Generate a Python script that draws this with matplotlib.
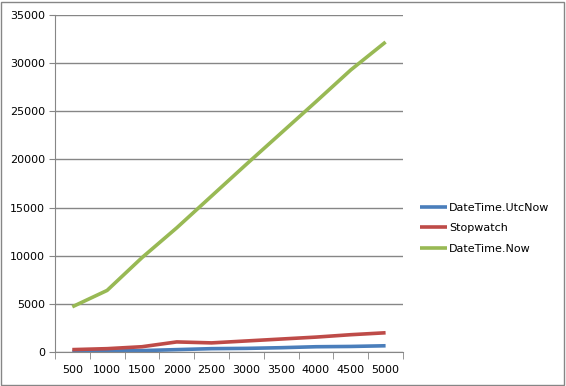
import numpy as np
import matplotlib.pyplot as plt
from matplotlib.patches import Rectangle

# Data
categories = ['500', '1000', '1500', '2000', '2500', '3000', '3500', '4000', '4500', '5000']
utc_now = [50, 100, 150, 250, 350, 380, 450, 550, 580, 650]
stopwatch = [250, 350, 550, 1050, 950, 1150, 1350, 1550, 1800, 2000]
date_now = [4700, 6400, 9800, 12900, 16200, 19500, 22750, 26000, 29300, 32200]

fig = plt.figure(figsize=(5.66, 3.86), dpi=100)
ax = fig.add_axes([0.097, 0.088, 0.615, 0.873])

x = np.arange(len(categories))
ax.plot(x, utc_now, color='#4a7ebb', lw=2.6, label='DateTime.UtcNow', solid_capstyle='butt')
ax.plot(x, stopwatch, color='#be4b48', lw=2.6, label='Stopwatch', solid_capstyle='butt')
ax.plot(x, date_now, color='#98b954', lw=2.6, label='DateTime.Now', solid_capstyle='butt')

ax.set_xlim(-0.5, len(categories) - 0.5)
ax.set_ylim(0, 35000)
ax.set_yticks(np.arange(0, 35001, 5000))
ax.yaxis.grid(True, color='#868686', lw=1)
ax.set_axisbelow(True)

ax.set_xticks(x)
ax.set_xticklabels(categories)
ax.set_xticks(np.arange(-0.5, len(categories), 1), minor=True)
ax.tick_params(axis='x', which='major', length=0, pad=9, labelsize=8)
ax.tick_params(axis='x', which='minor', length=5, color='#868686', direction='out')
ax.tick_params(axis='y', length=4, color='#868686', labelsize=8, pad=3)

for side in ['top', 'right']:
    ax.spines[side].set_visible(False)
for side in ['left', 'bottom']:
    ax.spines[side].set_color('#868686')

ax.legend(loc='center left', bbox_to_anchor=(1.02, 0.367), frameon=False,
          fontsize=8, handlelength=2.4, handletextpad=0.2, labelspacing=0.95)

# outer chart border
fig.patches.append(Rectangle((0.002, 0.003), 0.995, 0.993, transform=fig.transFigure,
                             fill=False, edgecolor='#868686', lw=1))

fig.savefig('out.png', dpi=100)
